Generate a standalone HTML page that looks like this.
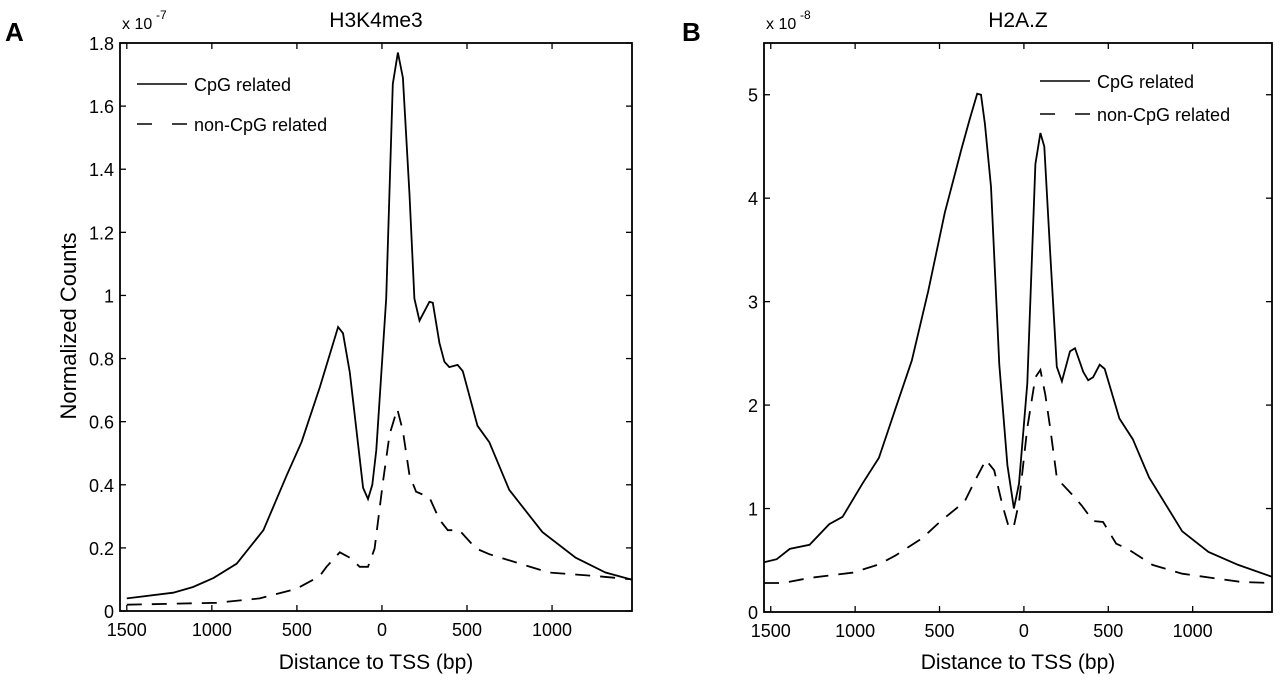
<!DOCTYPE html>
<html><head><meta charset="utf-8"><style>
body{margin:0;background:#fff;}
svg text{font-family:"Liberation Sans",sans-serif;fill:#000;}
</style></head><body>
<svg id="c" width="1280" height="684" xmlns="http://www.w3.org/2000/svg"></svg>
<script>
const xTicks=[-1500,-1000,-500,0,500,1000];
const xTickLabels=["1500","1000","500","0","500","1000"];
const aTicks=[0,0.2,0.4,0.6,0.8,1,1.2,1.4,1.6,1.8];
const aTickLabels=["0","0.2","0.4","0.6","0.8","1","1.2","1.4","1.6","1.8"];
const bTicks=[0,1,2,3,4,5];
const bTickLabels=["0","1","2","3","4","5"];
const aCpgX=[-1500,-1227,-1110,-990,-854,-697,-560,-473,-365,-258,-229,-189,-111,-82,-57,-33,25,64,94,123,162,191,221,279,299,338,367,396,445,475,562,631,748,943,1139,1314,1470];
const aCpgY=[0.04,0.058,0.076,0.105,0.15,0.256,0.43,0.535,0.71,0.9,0.88,0.756,0.39,0.355,0.4,0.51,0.99,1.67,1.77,1.69,1.32,0.99,0.92,0.98,0.977,0.85,0.79,0.773,0.78,0.76,0.587,0.535,0.384,0.25,0.169,0.122,0.099];
const aNonX=[-1500,-973,-719,-504,-367,-326,-248,-189,-131,-82,-43,6,45,90,123,162,201,279,338,387,455,553,631,807,982,1275,1470];
const aNonY=[0.02,0.026,0.04,0.07,0.11,0.14,0.186,0.169,0.14,0.14,0.198,0.41,0.56,0.64,0.57,0.43,0.378,0.36,0.29,0.256,0.256,0.198,0.18,0.151,0.122,0.11,0.1];
const bCpgX=[-1540,-1465,-1387,-1270,-1153,-1074,-957,-859,-762,-664,-566,-469,-371,-322,-277,-254,-231,-195,-146,-98,-59,-29,20,68,98,121,156,195,225,273,303,352,381,410,449,479,566,645,742,938,1094,1270,1470];
const bCpgY=[0.48,0.51,0.61,0.65,0.85,0.92,1.24,1.49,1.96,2.43,3.11,3.86,4.47,4.76,5.01,5.0,4.72,4.11,2.39,1.42,1.0,1.24,2.21,4.33,4.63,4.5,3.47,2.37,2.23,2.52,2.55,2.32,2.24,2.27,2.39,2.35,1.87,1.67,1.3,0.78,0.58,0.455,0.34];
const bNonX=[-1540,-1426,-1270,-1016,-859,-762,-605,-488,-352,-293,-225,-176,-127,-88,-59,-29,20,68,98,127,156,195,225,283,342,410,469,547,615,762,938,1113,1289,1470];
const bNonY=[0.28,0.28,0.33,0.38,0.46,0.545,0.71,0.885,1.065,1.26,1.47,1.37,1.03,0.81,0.83,1.06,1.78,2.27,2.34,2.1,1.78,1.3,1.24,1.14,1.03,0.88,0.87,0.66,0.61,0.455,0.37,0.33,0.29,0.28];

const NS="http://www.w3.org/2000/svg";
const svg=document.getElementById('c');
function el(t,a,p){const e=document.createElementNS(NS,t);for(const k in a)e.setAttribute(k,a[k]);(p||svg).appendChild(e);return e;}
function txt(s,a,p){const e=el('text',a,p);e.textContent=s;return e;}

function panel(o){
  const g=el('g',{});
  
  
  const X=v=>o.L+(v-(-1540))/(1470-(-1540))*(o.R-o.L);
  const Y=v=>o.B-(v/o.ymax)*(o.B-o.T);
  const frame=el('rect',{x:o.L,y:o.T,width:o.R-o.L,height:o.B-o.T,fill:'none',stroke:'#000','stroke-width':1.8},g);
  
  
  xTicks.forEach((t,i)=>{
    const x=X(t);
    el('line',{x1:x,x2:x,y1:o.B,y2:o.B-6,stroke:'#000','stroke-width':1.3},g);
    el('line',{x1:x,x2:x,y1:o.T,y2:o.T+6,stroke:'#000','stroke-width':1.3},g);
    const l=txt(xTickLabels[i],{x:x,y:o.B+25,'text-anchor':'middle','font-size':18},g);
    
    
  });
  o.yt.forEach((t,i)=>{
    const y=Y(t);
    el('line',{x1:o.L,x2:o.L+6,y1:y,y2:y,stroke:'#000','stroke-width':1.3},g);
    el('line',{x1:o.R,x2:o.R-6,y1:y,y2:y,stroke:'#000','stroke-width':1.3},g);
    const l=txt(o.ytl[i],{x:o.L-6,y:y+7,'text-anchor':'end','font-size':18},g);
    
    
  });
  const series=[[o.cx,o.cy,null,'cpg-line'],[o.nx,o.ny,'15 10','non-cpg-line']];
  series.forEach(s=>{
    const d=s[0].map((v,i)=>(i?'L':'M')+X(v).toFixed(1)+','+Y(s[1][i]).toFixed(1)).join(' ');
    const a={d:d,fill:'none',stroke:'#000','stroke-width':1.8};
    if(s[2])a['stroke-dasharray']=s[2];
    const p=el('path',a,g);
    
    
  });
  const t=txt(o.title,{x:(o.L+o.R)/2,y:27,'text-anchor':'middle','font-size':21},g);
  
  
  const ex=txt('x 10',{x:o.L+2,y:29,'font-size':16},g);
  
  
  txt(o.exp,{x:o.L+36,y:19,'font-size':12},g);
  const pl=txt(o.letter,{x:o.letterX,y:41,'font-size':26,'font-weight':'bold'},g);
  
  
  const xl=txt('Distance to TSS (bp)',{x:(o.L+o.R)/2,y:669,'text-anchor':'middle','font-size':21},g);
  
  
  const lg=el('g',{},g);
  
  
  el('line',{x1:o.lx,x2:o.lx+50,y1:o.ly,y2:o.ly,stroke:'#000','stroke-width':1.6},lg);
  txt('CpG related',{x:o.lx+57,y:o.ly+7,'font-size':18},lg);
  el('line',{x1:o.lx,x2:o.lx+50,y1:o.ly+o.lg,y2:o.ly+o.lg,stroke:'#000','stroke-width':1.6,'stroke-dasharray':'15 20'},lg);
  txt('non-CpG related',{x:o.lx+57,y:o.ly+o.lg+7,'font-size':18},lg);
}
panel({name:'panel-a-h3k4me3',L:120,R:632,T:43,B:611,ymax:1.8,yt:aTicks,ytl:aTickLabels,cx:aCpgX,cy:aCpgY,nx:aNonX,ny:aNonY,title:'H3K4me3',exp:'-7',letter:'A',letterX:5,lx:137,ly:84,lg:40});
panel({name:'panel-b-h2az',L:764,R:1272,T:43,B:612,ymax:5.5,yt:bTicks,ytl:bTickLabels,cx:bCpgX,cy:bCpgY,nx:bNonX,ny:bNonY,title:'H2A.Z',exp:'-8',letter:'B',letterX:682,lx:1040,ly:81,lg:33});
const yl=txt('Normalized Counts',{x:0,y:0,'text-anchor':'middle','font-size':22,transform:'translate(76,326) rotate(-90)'});


</script>
</body></html>
